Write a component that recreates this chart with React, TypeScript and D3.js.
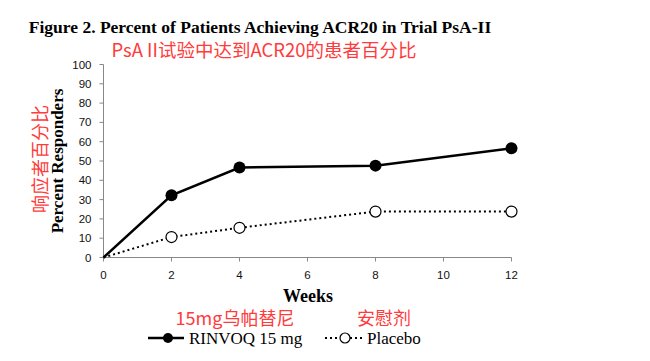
import React from "react";
import * as d3 from "d3";

const weeks = [0, 2, 4, 8, 12];
const rinvoq = [0, 32.2, 46.6, 47.6, 56.6];
const placebo = [0, 10.6, 15.4, 23.8, 23.8];
const yTicks = [0, 10, 20, 30, 40, 50, 60, 70, 80, 90, 100];
const xTicks = [0, 2, 4, 6, 8, 10, 12];

const title = "Figure 2. Percent of Patients Achieving ACR20 in Trial PsA-II";
const titleCn = "PsA II试验中达到ACR20的患者百分比";
const yLabel = "Percent Responders";
const yLabelCn = "响应者百分比";
const xLabel = "Weeks";
const legendRinvoq = "RINVOQ 15 mg";
const legendPlacebo = "Placebo";
const legendRinvoqCn = "15mg乌帕替尼";
const legendPlaceboCn = "安慰剂";

export default function App() {
  const W = 650, H = 361;
  const x = d3.scaleLinear().domain([0, 12]).range([103.5, 511.5]);
  const y = d3.scaleLinear().domain([0, 100]).range([257.5, 64.5]);
  const line = d3.line<number>().x((_, i) => x(weeks[i])).y((d) => y(d));
  const serif = "'Liberation Serif', 'Times New Roman', serif";
  const sans = "'Liberation Sans', Arial, sans-serif";
  const cjk = "'Noto Sans CJK SC', sans-serif";
  const red = "#ff3b3b";
  const axisColor = "#888";
  return (
    <svg width={W} height={H} style={{ position: "absolute", left: 0, top: 0, background: "#fff" }}>
      <text x={260} y={33} textAnchor="middle" fontFamily={serif} fontWeight="bold" fontSize={17.5}>{title}</text>
      <text x={264} y={57} textAnchor="middle" fontFamily={cjk} fontSize={18.5} fill={red}>{titleCn}</text>

      {/* y axis */}
      <line x1={x(0)} x2={x(0)} y1={y(0)} y2={y(100)} stroke={axisColor} strokeWidth={1} />
      {yTicks.map((t) => (
        <g key={"y" + t}>
          <line x1={x(0) - 4} x2={x(0)} y1={y(t)} y2={y(t)} stroke={axisColor} />
          <text x={x(0) - 12} y={y(t) + 4} textAnchor="end" fontFamily={sans} fontSize={11.5} fill="#111">{t}</text>
        </g>
      ))}
      {/* x axis */}
      <line x1={x(0)} x2={x(12)} y1={y(0)} y2={y(0)} stroke={axisColor} strokeWidth={1} />
      {xTicks.map((t) => (
        <g key={"x" + t}>
          <line x1={x(t)} x2={x(t)} y1={y(0)} y2={y(0) + 4} stroke={axisColor} />
          <text x={x(t)} y={y(0) + 21} textAnchor="middle" fontFamily={sans} fontSize={11.5} fill="#111">{t}</text>
        </g>
      ))}

      <text transform={`translate(63,161) rotate(-90)`} textAnchor="middle" fontFamily={serif} fontWeight="bold" fontSize={17}>{yLabel}</text>
      <text transform={`translate(47,159) rotate(-90)`} textAnchor="middle" fontFamily={cjk} fontSize={18} fill={red}>{yLabelCn}</text>
      <text x={308} y={302} textAnchor="middle" fontFamily={serif} fontWeight="bold" fontSize={18}>{xLabel}</text>

      {/* series */}
      <path d={line(placebo) || ""} fill="none" stroke="#000" strokeWidth={2} strokeDasharray="2,3" />
      <path d={line(rinvoq) || ""} fill="none" stroke="#000" strokeWidth={2.5} />
      {rinvoq.map((v, i) => i > 0 && (
        <circle key={"r" + i} cx={x(weeks[i])} cy={y(v)} r={6} fill="#000" />
      ))}
      {placebo.map((v, i) => i > 0 && (
        <circle key={"p" + i} cx={x(weeks[i])} cy={y(v)} r={5.5} fill="#fff" stroke="#000" strokeWidth={1.2} />
      ))}

      {/* legend */}
      <text x={235} y={325} textAnchor="middle" fontFamily={cjk} fontSize={18} fill={red}>{legendRinvoqCn}</text>
      <text x={384} y={325} textAnchor="middle" fontFamily={cjk} fontSize={18} fill={red}>{legendPlaceboCn}</text>
      <line x1={148} x2={184} y1={338} y2={338} stroke="#000" strokeWidth={2.5} />
      <circle cx={168} cy={338} r={5} fill="#000" />
      <text x={189} y={344} fontFamily={serif} fontSize={17}>{legendRinvoq}</text>
      <line x1={325} x2={363} y1={338} y2={338} stroke="#000" strokeWidth={2} strokeDasharray="2,3" />
      <circle cx={345} cy={338} r={5} fill="#fff" stroke="#000" strokeWidth={1.2} />
      <text x={367} y={344} fontFamily={serif} fontSize={17}>{legendPlacebo}</text>
    </svg>
  );
}
